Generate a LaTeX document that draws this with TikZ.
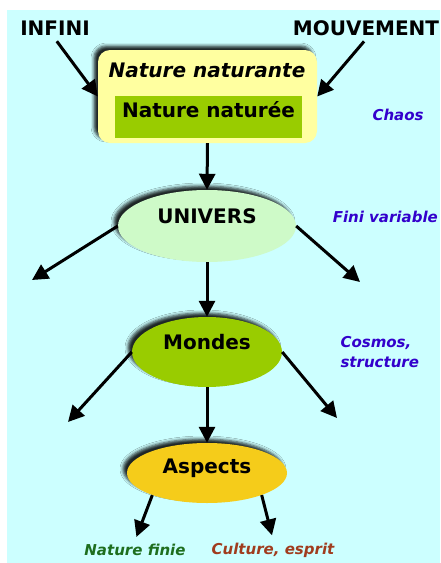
\documentclass[tikz,border=0pt]{standalone}
\usepackage{fontspec}
\setmainfont{DejaVu Sans}
\usepackage{xcolor}
\usetikzlibrary{positioning}
\usetikzlibrary{arrows.meta}
\usetikzlibrary{shapes.geometric}
\usetikzlibrary{shadows.blur}

\definecolor{fondcyan}{RGB}{204,255,255}
\definecolor{jaunepale}{RGB}{255,255,160}
\definecolor{vertpomme}{RGB}{153,204,0}
\definecolor{vertclair}{RGB}{206,250,200}
\definecolor{ocre}{RGB}{245,204,26}
\definecolor{bleuviolet}{RGB}{51,0,204}
\definecolor{vertfonce}{RGB}{30,110,30}
\definecolor{brique}{RGB}{160,60,30}

\begin{document}
\begin{tikzpicture}[x=1pt,y=-1pt,
  fleche/.style={line width=3pt,-{Triangle[length=16pt,width=16pt]}},
  ombre/.style={blur shadow={shadow xshift=-4pt,shadow yshift=4pt,
      shadow blur radius=3pt,shadow opacity=85}},
  mot/.style={font=\fontsize{20}{24}\selectfont\bfseries},
  bulle/.style={ellipse,inner sep=0pt,ombre,mot,text height=13pt,text depth=19pt},
  note/.style={font=\fontsize{15}{20}\selectfont\bfseries\itshape,align=left}]

  % page and background
  \useasboundingbox (0,0) rectangle (440,563);
  \fill[fondcyan] (7,10) rectangle (440,563);

  % the two sources
  \node[mot] (infini) at (55,28) {INFINI};
  \node[mot] (mouv) at (366,28) {MOUVEMENT};

  % Nature naturante / naturee box
  \node[fill=jaunepale, rounded corners=12pt, minimum width=219pt,
    minimum height=93pt, ombre] (naturante) at (207.5,96.5) {};
  \node[mot, font=\fontsize{20}{24}\selectfont\bfseries\itshape] (titre) at (207,70) {Nature naturante};
  \node[mot, fill=vertpomme, minimum width=187pt, minimum height=42pt,
    inner sep=0pt, text height=13pt, text depth=13pt] (naturee) at (208.5,117) {Nature naturée};

  % ellipses
  \node[bulle, fill=vertclair, minimum width=178pt, minimum height=72pt] (univers) at (207,226) {UNIVERS};
  \node[bulle, fill=vertpomme, minimum width=150pt, minimum height=70pt] (mondes) at (207,352) {Mondes};
  \node[bulle, fill=ocre, minimum width=160pt, minimum height=60pt, text depth=13pt] (aspects) at (207,473) {Aspects};

  % side notes
  \node[note, text=bleuviolet, anchor=west] (chaos) at (369,115) {Chaos};
  \node[note, text=bleuviolet, anchor=east, inner sep=1pt] (fini) at (439,217) {Fini variable};
  \node[note, text=bleuviolet, anchor=west] (cosmos) at (337,352) {Cosmos,\\structure};
  \node[note, text=vertfonce] (finie) at (135,550) {Nature finie};
  \node[note, text=brique] (culture) at (273,550) {Culture, esprit};

  % free ends of the side arrows
  \coordinate (ug) at (32,280);
  \coordinate (ud) at (360,282);
  \coordinate (mg) at (68,422);
  \coordinate (md) at (337,418);

  % arrows
  \draw[fleche, shorten <=3pt] (infini.south) -- (naturante.west);
  \draw[fleche, shorten <=3pt] (mouv.south) -- (naturante.east);
  \draw[fleche] (naturante.south) -- (univers.north);
  \draw[fleche] (univers.south) -- (mondes.north);
  \draw[fleche] (mondes.south) -- (aspects.north);
  \draw[fleche] (univers.west) -- (ug);
  \draw[fleche] (univers.east) -- (ud);
  \draw[fleche] (mondes.west) -- (mg);
  \draw[fleche] (mondes.east) -- (md);
  \draw[fleche, shorten >=4pt] (aspects.202) -- (finie.north);
  \draw[fleche, shorten >=4pt] (aspects.338) -- (culture.north);

\end{tikzpicture}
\end{document}
